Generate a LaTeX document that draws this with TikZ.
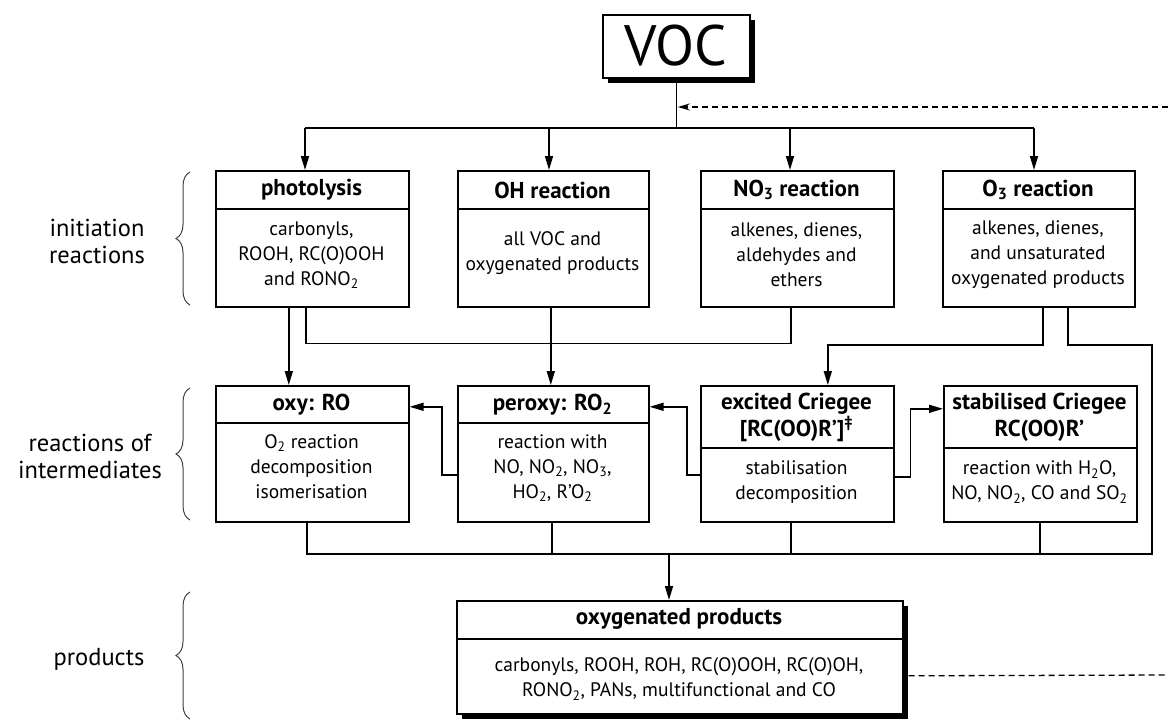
\documentclass[tikz,border=0pt]{standalone}
\usepackage{fontspec}
\setmainfont{PT Sans}
\usetikzlibrary{arrows.meta,shadows,decorations.pathreplacing}
\newcommand{\sbs}[1]{\textsubscript{#1}}
\begin{document}
\begin{tikzpicture}[x=1pt,y=-1pt,line width=1.6pt,
  box/.style={draw,fill=white,inner sep=0pt,anchor=north west,line width=1.6pt},
  shbox/.style={box,drop shadow={shadow xshift=5pt,shadow yshift=-5pt,fill=black,opacity=1}},
  hdr/.style={font=\fontsize{23}{27}\selectfont\bfseries,align=center,inner sep=0pt},
  bodytxt/.style={font=\fontsize{19.5}{25}\selectfont,align=center,inner sep=0pt},
  lbl/.style={font=\fontsize{24.5}{27}\selectfont,align=center,inner sep=0pt},
  arr/.style={-{Triangle[length=14pt,width=8pt]}},
  dsh/.style={dash pattern=on 6pt off 4pt,line width=1.3pt},
  dasharr/.style={dsh,-{Stealth[length=12pt,width=7pt]}},
  brc/.style={decorate,decoration={brace,amplitude=14pt},line width=1pt,draw=black!75}]
\useasboundingbox (0,0) rectangle (1168,721);

% VOC
\node[shbox,minimum width=147,minimum height=63] (voc) at (602,14) {};
\node[font=\fontsize{57}{60}\selectfont,inner sep=0pt] (voct) at (675.5,46) {VOC};

% row 1 boxes
\node[box,minimum width=193,minimum height=136] (photo) at (215,170) {};
\node[box,minimum width=191,minimum height=136] (oh) at (457,170) {};
\node[box,minimum width=193,minimum height=136] (no3) at (700,170) {};
\node[box,minimum width=192,minimum height=136] (o3) at (942,170) {};
\foreach \b in {photo,oh,no3,o3}
  \draw ([yshift=-39pt]\b.north west) -- ([yshift=-39pt]\b.north east);
\node[hdr] (photoh) at (311.5,190) {photolysis};
\node[hdr] (ohh) at (552.5,190) {OH reaction};
\node[hdr] (no3h) at (796.5,190) {NO\sbs{3} reaction};
\node[hdr] (o3h) at (1038,190) {O\sbs{3} reaction};
\node[bodytxt] (photob) at (311.5,255) {carbonyls,\\ROOH, RC(O)OOH\\and RONO\sbs{2}};
\node[bodytxt] (ohb) at (552.5,253) {all VOC and\\oxygenated products};
\node[bodytxt] (no3b) at (796.5,255) {alkenes, dienes,\\aldehydes and\\ethers};
\node[bodytxt] (o3b) at (1038,255) {alkenes, dienes,\\and unsaturated\\oxygenated products};

% row 2 boxes
\node[box,minimum width=193,minimum height=136] (oxy) at (215,385) {};
\node[box,minimum width=191,minimum height=136] (perox) at (457,385) {};
\node[box,minimum width=193,minimum height=136] (exc) at (700,385) {};
\node[box,minimum width=193,minimum height=136] (stab) at (943,385) {};
\foreach \b in {oxy,perox}
  \draw ([yshift=-38pt]\b.north west) -- ([yshift=-38pt]\b.north east);
\foreach \b in {exc,stab}
  \draw ([yshift=-63pt]\b.north west) -- ([yshift=-63pt]\b.north east);
\node[hdr] (oxyh) at (311.5,405) {oxy: RO};
\node[hdr] (peroxh) at (552.5,405) {peroxy: RO\sbs{2}};
\node[hdr] (exch) at (796.5,417) {excited Criegee\\{}[RC(OO)R']\textsuperscript{‡}};
\node[hdr] (stabh) at (1039.5,417) {stabilised Criegee\\RC(OO)R'};
\node[bodytxt] (oxyb) at (311.5,467) {O\sbs{2} reaction\\decomposition\\isomerisation};
\node[bodytxt] (peroxb) at (552.5,468) {reaction with\\NO, NO\sbs{2}, NO\sbs{3},\\HO\sbs{2}, R'O\sbs{2}};
\node[bodytxt] (excb) at (796.5,482) {stabilisation\\decomposition};
\node[bodytxt] (stabb) at (1039.5,482) {reaction with H\sbs{2}O,\\NO, NO\sbs{2}, CO and SO\sbs{2}};

% products box
\node[shbox,minimum width=446,minimum height=113] (prod) at (456,600) {};
\draw ([yshift=-39pt]prod.north west) -- ([yshift=-39pt]prod.north east);
\node[hdr] (prodh) at (679,619) {oxygenated products};
\node[bodytxt] (prodb) at (679,679) {carbonyls, ROOH, ROH, RC(O)OOH, RC(O)OH,\\RONO\sbs{2}, PANs, multifunctional and CO};

% side labels and braces
\node[lbl] (l1) at (97,241) {initiation\\reactions};
\node[lbl] (l2) at (90,456) {reactions of\\intermediates};
\node[lbl] (l3) at (99,659) {products};
\draw[brc] (190,305) -- (190,172);
\draw[brc] (190,520) -- (190,388);
\draw[brc] (190,719) -- (190,592);

% coordinates
\coordinate (t1) at (305,128);
\coordinate (t2) at (549,128);
\coordinate (t3) at (790,128);
\coordinate (t4) at (1034,128);
\coordinate (fbR) at (1168,107);
\coordinate (fbB) at (1168,675);
\coordinate (rc) at (1152,345);
\coordinate (br) at (1152,554);
\coordinate (bl) at (306,554);
\coordinate (pin) at (669,554);

% VOC to initiation
\draw (voc.south) -- (voc.south |- t1);
\draw (t1) -- (t4);
\draw[arr] (t1) -- (t1 |- photo.north);
\draw[arr] (t2) -- (t2 |- oh.north);
\draw[arr] (t3) -- (t3 |- no3.north);
\draw[arr] (t4) -- (t4 |- o3.north);
\draw[dasharr] (fbR) -- ([xshift=1.5pt]voc.south |- fbR);

% initiation to intermediates
\draw[arr] ([xshift=-23.5pt]photo.south) -- ([xshift=-23.5pt]oxy.north);
\draw ([xshift=-6.5pt]photo.south) |- ([xshift=-6.5pt,yshift=-36pt]no3.south) -- ([xshift=-6.5pt]no3.south);
\draw[arr] ([xshift=-2.5pt]oh.south) -- ([xshift=-2.5pt]perox.north);
\draw[arr] ([xshift=4pt]o3.south) |- ([xshift=30.5pt,yshift=40pt]exc.north) -- ([xshift=30.5pt]exc.north);
\draw ([xshift=29pt]o3.south) |- (rc) -- (br) -- (bl);

% intermediates horizontal
\draw[arr] ([yshift=-21pt]perox.west) -- ++(-15,0) |- ([yshift=47pt]oxy.east);
\draw[arr] ([yshift=-21pt]exc.west) -- ++(-13,0) |- ([yshift=47pt]perox.east);
\draw[arr] ([yshift=-23pt]exc.east) -- ++(16,0) |- ([yshift=45pt]stab.west);

% intermediates to products
\draw ([xshift=-5.5pt]oxy.south) |- (bl);
\draw ([xshift=-1.5pt]perox.south) |- (bl);
\draw ([xshift=-6.5pt]exc.south) |- (bl);
\draw ([xshift=-0.5pt]stab.south) |- (bl);
\draw[arr] (pin) -- (pin |- prod.north);
\draw[dsh] ([xshift=5pt,yshift=-18.5pt]prod.east) -- (fbB);
\end{tikzpicture}
\end{document}
